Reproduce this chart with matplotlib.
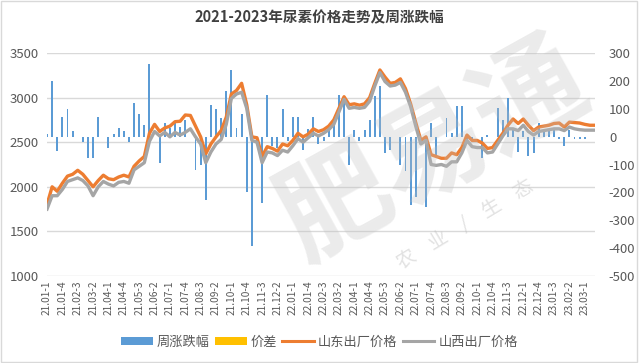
import matplotlib
matplotlib.use("Agg")
import matplotlib.pyplot as plt
from matplotlib.patches import Patch, Rectangle
from matplotlib.lines import Line2D

plt.rcParams['font.family'] = ['Noto Sans CJK SC', 'DejaVu Sans']

categories = [
    "21.01-1", "21.01-2", "21.01-3", "21.01-4", "21.02-1", "21.02-2", "21.02-3", "21.02-4",
    "21.03-1", "21.03-2", "21.03-3", "21.03-4", "21.04-1", "21.04-2", "21.04-3", "21.04-4",
    "21.05-1", "21.05-2", "21.05-3", "21.05-4", "21.06-1", "21.06-2", "21.06-3", "21.06-4",
    "21.07-1", "21.07-2", "21.07-3", "21.07-4", "21.08-1", "21.08-2", "21.08-3", "21.08-4",
    "21.09-1", "21.09-2", "21.09-3", "21.09-4", "21.10-1", "21.10-2", "21.10-3", "21.10-4",
    "21.11-1", "21.11-2", "21.11-3", "21.11-4", "21.12-1", "21.12-2", "21.12-3", "21.12-4",
    "22.01-1", "22.01-2", "22.01-3", "22.01-4", "22.02-1", "22.02-2", "22.02-3", "22.02-4",
    "22.03-1", "22.03-2", "22.03-3", "22.03-4", "22.04-1", "22.04-2", "22.04-3", "22.04-4",
    "22.05-1", "22.05-2", "22.05-3", "22.05-4", "22.06-1", "22.06-2", "22.06-3", "22.06-4",
    "22.07-1", "22.07-2", "22.07-3", "22.07-4", "22.08-1", "22.08-2", "22.08-3", "22.08-4",
    "22.09-1", "22.09-2", "22.09-3", "22.09-4", "22.10-1", "22.10-2", "22.10-3", "22.10-4",
    "22.11-1", "22.11-2", "22.11-3", "22.11-4", "22.11-5", "22.12-1", "22.12-2", "22.12-3",
    "22.12-4", "23.01-1", "23.01-2", "23.01-3", "23.01-4", "23.02-1", "23.02-2", "23.02-3",
    "23.02-4", "23.03-1", "23.03-2", "23.03-3",
]

weekly_change = [
    10, 198, -50, 70, 100, 20, 0, -20, -75, -75,
    70, 0, -40, 10, 30, 20, -20, 120, 80, 40,
    262, 0, -95, 50, 30, 50, 35, 60, 0, -118,
    -100, -226, 115, 100, 67, 162, 240, 30, 82, -197,
    -394, 0, -237, 150, -35, -40, 100, -17, 70, 70,
    -47, 28, 70, -28, -17, 40, 67, 150, 145, -100,
    22, -17, 22, 60, 145, 180, -58, -47, 0, -100,
    -124, -244, -215, 0, -251, 50, -70, 0, 67, 13,
    109, 109, -23, -17, 0, -76, 7, 0, 103, 60,
    140, 25, -55, 20, -68, -58, 50, 15, 20, 22,
    -8, -35, 25, -8, -8, -8, 0, 0,
]

spread = []  # 价差 series: no visible values in the chart

shandong = [
    1800, 2000, 1950, 2040, 2120, 2140, 2185, 2140, 2070, 2000,
    2070, 2130, 2090, 2080, 2110, 2130, 2110, 2230, 2290, 2340,
    2600, 2700, 2620, 2660, 2680, 2730, 2735, 2805, 2800, 2680,
    2560, 2370, 2480, 2560, 2630, 2780, 3040, 3080, 3160, 2920,
    2560, 2550, 2340, 2450, 2430, 2400, 2480, 2460, 2520, 2600,
    2560, 2590, 2650, 2620, 2640, 2680, 2750, 2880, 3010, 2920,
    2930, 2915, 2930, 3000, 3160, 3310, 3230, 3160, 3170, 3210,
    3100, 2930, 2720, 2520, 2560, 2360, 2340, 2320, 2320, 2380,
    2360, 2440, 2580, 2520, 2520, 2490, 2430, 2440, 2520, 2600,
    2690, 2760, 2710, 2760, 2690, 2630, 2670, 2680, 2690, 2710,
    2715, 2670, 2725, 2720, 2715, 2700, 2690, 2690,
]

shanxi = [
    1750, 1900, 1900, 1970, 2060, 2080, 2100, 2070, 2010, 1900,
    2000, 2060, 2030, 2010, 2050, 2060, 2040, 2190, 2230, 2270,
    2510, 2620, 2570, 2610, 2560, 2610, 2580, 2610, 2650, 2560,
    2480, 2270, 2390, 2480, 2530, 2700, 2990, 3040, 3060, 2880,
    2520, 2500, 2270, 2390, 2380, 2350, 2410, 2390, 2460, 2540,
    2500, 2550, 2600, 2570, 2600, 2640, 2700, 2840, 2980, 2880,
    2890, 2880, 2890, 2960, 3130, 3280, 3180, 3130, 3140, 3170,
    3060, 2900, 2680, 2480, 2520, 2250, 2240, 2250, 2230, 2280,
    2280, 2380, 2520, 2450, 2440, 2440, 2380, 2390, 2480, 2570,
    2650, 2650, 2630, 2690, 2620, 2580, 2620, 2630, 2640, 2650,
    2650, 2630, 2670, 2650, 2640, 2635, 2635, 2635,
]

title = "2021-2023年尿素价格走势及周涨跌幅"
legend_labels = ["周涨跌幅", "价差", "山东出厂价格", "山西出厂价格"]

C_BAR = "#5B9BD5"
C_SPREAD = "#FFC000"
C_SD = "#ED7D31"
C_SX = "#A5A5A5"
C_TXT = "#595959"

fig = plt.figure(figsize=(6.39, 3.63), dpi=100)
fig.patch.set_facecolor("white")
fig.add_artist(Rectangle((0.002, 0.003), 0.995, 0.994, transform=fig.transFigure,
                         fill=False, edgecolor="#d9d9d9", linewidth=1.0))

ax = fig.add_axes([47 / 639, 1 - 276 / 363, 548 / 639, 223 / 363])
ax2 = ax.twinx()

x = list(range(len(categories)))

# left axis: prices
ax.set_ylim(1000, 3500)
ax.set_yticks([1000, 1500, 2000, 2500, 3000, 3500])
ax.grid(axis="y", color="#d9d9d9", linewidth=1.0)
ax.set_axisbelow(True)

# right axis: weekly change bars
ax2.set_ylim(-500, 300)
ax2.set_yticks(range(-500, 301, 100))
ax2.bar(x, weekly_change, width=0.38, color=C_BAR, zorder=2)

# lines drawn on top of bars
ax3 = ax.twinx()
ax3.set_ylim(1000, 3500)
ax3.axis("off")
ax3.plot(x, shandong, color=C_SD, linewidth=2.4, solid_joinstyle="round", zorder=3)
ax3.plot(x, shanxi, color=C_SX, linewidth=2.4, solid_joinstyle="round", zorder=4)
ax3.plot(range(len(spread)), spread, color=C_SPREAD, linewidth=2.4)

for a in (ax, ax2, ax3):
    a.set_xlim(0, len(categories) - 1)
    for s in a.spines.values():
        s.set_visible(False)

ax.set_xticks(x[::3])
ax.set_xticklabels(categories[::3], rotation=90, fontsize=7.3, color=C_TXT)
ax.tick_params(axis="x", length=0, pad=3)
ax.tick_params(axis="y", length=0, labelsize=9.5, labelcolor=C_TXT, pad=6)
ax2.tick_params(axis="y", length=0, labelsize=9.5, labelcolor=C_TXT, pad=10)
ax2.set_yticklabels([f"{v}" if v >= 0 else f"-{abs(v)}" for v in range(-500, 301, 100)])

fig.text(0.5, 0.952, title, ha="center", va="center", fontsize=10.5,
         fontweight="bold", color="#404040")

handles = [
    Patch(facecolor=C_BAR, edgecolor="none"),
    Patch(facecolor=C_SPREAD, edgecolor="none"),
    Line2D([0], [0], color=C_SD, linewidth=2.2),
    Line2D([0], [0], color=C_SX, linewidth=2.2),
]
fig.legend(handles, legend_labels, loc="center", bbox_to_anchor=(0.5, 0.058), ncol=4,
           frameon=False, fontsize=9.5, labelcolor=C_TXT, handlelength=2.4,
           handleheight=0.6, handletextpad=0.3, columnspacing=0.4)

# faint watermark
fig.text(0.68, 0.58, "肥易通", fontsize=80, color="#bfbfbf", alpha=0.3,
         rotation=29, ha="center", va="center", fontweight="bold", zorder=10)
fig.text(0.728, 0.38, "农    业    /    生    态", fontsize=14, color="#bfbfbf", alpha=0.45,
         rotation=31, ha="center", va="center", zorder=10)

fig.savefig("out.png", dpi=100)
